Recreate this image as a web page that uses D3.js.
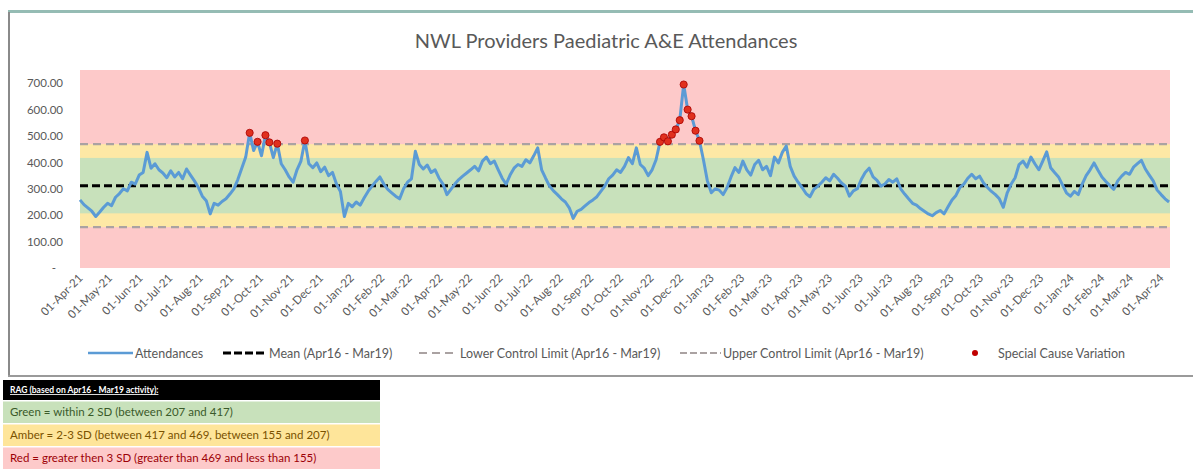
<!DOCTYPE html>
<html>
<head>
<meta charset="utf-8">
<title>NWL Providers Paediatric A&E Attendances</title>
<script src="https://cdn.jsdelivr.net/npm/d3@7"></script>
<style>
    body { margin: 0; background: #fff; }
    svg text { font-family: Lato, "Liberation Sans", sans-serif; }
    .axis path, .axis line { display: none; }
    .axis text { fill: #595959; font-size: 11.5px; }
    .legend text { fill: #595959; font-size: 12.5px; }
</style>
</head>
<body>
<script>
    /*========= DATA =========*/
    var chartTitle = "NWL Providers Paediatric A&E Attendances";
    var startDate = new Date(2021, 3, 1);   // first observation
    var endDate = new Date(2024, 3, 10);
    var stepDays = 4;                       // one reading every 4 days
    var attendances = [
        258, 240, 228, 215, 195, 212, 230, 245, 236, 268, 282, 300, 292, 325, 318, 352, 362, 438, 378, 395,
        372, 360, 342, 368, 345, 362, 338, 375, 352, 330, 305, 272, 255, 205, 245, 238, 252, 262, 280, 300,
        335, 378, 420, 512, 445, 478, 425, 503, 476, 418, 471, 395, 372, 345, 325, 372, 405, 483, 395, 380,
        398, 365, 382, 350, 362, 318, 290, 195, 245, 232, 250, 238, 265, 290, 310, 328, 345, 318, 298, 285,
        272, 262, 300, 325, 338, 442, 392, 375, 390, 362, 372, 340, 318, 278, 298, 318, 335, 348, 360, 372,
        385, 368, 405, 420, 395, 405, 372, 340, 318, 352, 378, 392, 385, 410, 398, 425, 455, 372, 340, 310,
        292, 278, 262, 250, 228, 188, 215, 222, 235, 248, 258, 270, 290, 310, 338, 352, 372, 362, 385, 418,
        395, 455, 392, 378, 350, 372, 410, 478, 495, 480, 505, 525, 560, 695, 600, 575, 520, 482, 410, 330,
        285, 300, 295, 278, 305, 345, 380, 362, 405, 372, 352, 392, 408, 372, 385, 350, 420, 398, 438, 462,
        385, 348, 325, 305, 282, 270, 298, 310, 325, 342, 330, 355, 340, 322, 310, 272, 292, 300, 335, 362,
        378, 345, 332, 310, 318, 335, 325, 338, 300, 280, 262, 245, 238, 225, 215, 205, 198, 210, 218, 205,
        232, 258, 275, 305, 318, 340, 355, 338, 348, 322, 305, 290, 278, 262, 230, 285, 318, 342, 392, 405,
        382, 420, 395, 372, 405, 440, 380, 362, 345, 315, 285, 272, 290, 278, 318, 350, 372, 398, 370, 345,
        328, 312, 298, 330, 348, 362, 355, 382, 395, 408, 375, 352, 330, 295, 278, 262, 250
    ];
    var meanValue = 312;
    var lowerLimit = 155;
    var upperLimit = 469;
    var greenBand = [207, 417];
    var yMax = 750;
    var yTicks = [0, 100, 200, 300, 400, 500, 600, 700];
    var legendNames = ["Attendances", "Mean (Apr16 - Mar19)", "Lower Control Limit (Apr16 - Mar19)",
                       "Upper Control Limit (Apr16 - Mar19)", "Special Cause Variation"];
    var ragTitle = "RAG (based on Apr16 - Mar19 activity):";
    var ragRows = [
        "Green = within 2 SD (between 207 and 417)",
        "Amber = 2-3 SD (between 417 and 469, between 155 and 207)",
        "Red = greater then 3 SD (greater than 469 and less than 155)"
    ];

    /*========= COLOURS =========*/
    var lineColor = "#5b9bd5";
    var redBg = "#fdc9c9", amberBg = "#fde8a5", greenBg = "#c8e1bb";
    var limitColor = "#aaa2a2";

    /*========= SIZE =========*/
    var svgWidth = 1193, svgHeight = 473;
    var plot = { left: 80, right: 1170, top: 70, bottom: 268 };

    var points = attendances.map(function (v, i) {
        return { date: d3.timeDay.offset(startDate, i * stepDays), value: v };
    });

    var svg = d3.select("body").append("svg")
        .attr("width", svgWidth).attr("height", svgHeight);

    // chart frame
    svg.append("rect").attr("x", 8).attr("y", 10).attr("width", svgWidth - 8).attr("height", 3).attr("fill", "#95bcb4");
    svg.append("rect").attr("x", 8).attr("y", 12).attr("width", 2).attr("height", 365).attr("fill", "#8a8a8a");
    svg.append("rect").attr("x", 8).attr("y", 375).attr("width", svgWidth - 8).attr("height", 2).attr("fill", "#9a9a9a");

    svg.append("text")
        .attr("x", 606).attr("y", 48)
        .attr("text-anchor", "middle")
        .attr("font-size", "20px")
        .attr("fill", "#595959")
        .text(chartTitle);

    // scales
    var x = d3.scaleTime().domain([startDate, endDate]).range([plot.left, plot.right]);
    var y = d3.scaleLinear().domain([0, yMax]).range([plot.bottom, plot.top]);

    // RAG background bands
    var bandG = svg.append("g");
    var bands = [
        { lo: 0, hi: yMax, color: redBg },
        { lo: lowerLimit, hi: upperLimit, color: amberBg },
        { lo: greenBand[0], hi: greenBand[1], color: greenBg }
    ];
    bandG.selectAll("rect").data(bands).enter().append("rect")
        .attr("x", plot.left)
        .attr("width", plot.right - plot.left)
        .attr("y", function (d) { return y(d.hi); })
        .attr("height", function (d) { return y(d.lo) - y(d.hi); })
        .attr("fill", function (d) { return d.color; });

    // axes
    var yAxis = d3.axisLeft(y).tickValues(yTicks).tickSize(0).tickPadding(0)
        .tickFormat(function (d) { return d === 0 ? "-" : d3.format(".2f")(d); });
    svg.append("g").attr("class", "axis")
        .attr("transform", "translate(63,0)")
        .call(yAxis)
        .selectAll("text").filter(function (d) { return d === 0; }).attr("dx", "-7");

    var monthTicks = d3.timeMonth.range(startDate, d3.timeDay.offset(endDate, -8));
    var xAxis = d3.axisBottom(x).tickValues(monthTicks).tickSize(0)
        .tickFormat(d3.timeFormat("%d-%b-%y"));
    svg.append("g").attr("class", "axis")
        .attr("transform", "translate(0," + (plot.bottom + 8) + ")")
        .call(xAxis)
        .selectAll("text")
        .attr("text-anchor", "end")
        .attr("dy", "0.35em")
        .attr("y", 0)
        .attr("transform", "rotate(-45)");

    // control lines
    var limits = [
        { v: lowerLimit, color: limitColor, w: 2.2, dash: "8,5" },
        { v: upperLimit, color: limitColor, w: 2.2, dash: "8,5" },
        { v: meanValue, color: "#000", w: 3, dash: "8,4" }
    ];
    svg.append("g").selectAll("line").data(limits).enter().append("line")
        .attr("x1", plot.left).attr("x2", plot.right)
        .attr("y1", function (d) { return y(d.v); })
        .attr("y2", function (d) { return y(d.v); })
        .attr("stroke", function (d) { return d.color; })
        .attr("stroke-width", function (d) { return d.w; })
        .attr("stroke-dasharray", function (d) { return d.dash; });

    // attendances line
    var line = d3.line()
        .x(function (d) { return x(d.date); })
        .y(function (d) { return y(d.value); });
    svg.append("path")
        .datum(points)
        .attr("d", line)
        .attr("fill", "none")
        .attr("stroke", lineColor)
        .attr("stroke-width", 3)
        .attr("stroke-linejoin", "round");

    // special cause variation points
    svg.append("g").selectAll("circle")
        .data(points.filter(function (d) { return d.value > upperLimit || d.value < lowerLimit; }))
        .enter().append("circle")
        .attr("cx", function (d) { return x(d.date); })
        .attr("cy", function (d) { return y(d.value); })
        .attr("r", 3.6)
        .attr("fill", "#e0301e")
        .attr("stroke", "#a80000")
        .attr("stroke-width", 0.8);

    // legend
    var legend = svg.append("g").attr("class", "legend");
    var ly = 353;
    legend.append("line").attr("x1", 88).attr("x2", 133).attr("y1", ly).attr("y2", ly)
        .attr("stroke", lineColor).attr("stroke-width", 2.5);
    legend.append("line").attr("x1", 223).attr("x2", 267).attr("y1", ly).attr("y2", ly)
        .attr("stroke", "#000").attr("stroke-width", 3).attr("stroke-dasharray", "8,3");
    legend.append("line").attr("x1", 419).attr("x2", 455).attr("y1", ly).attr("y2", ly)
        .attr("stroke", limitColor).attr("stroke-width", 2).attr("stroke-dasharray", "8,5");
    legend.append("line").attr("x1", 680).attr("x2", 721).attr("y1", ly).attr("y2", ly)
        .attr("stroke", limitColor).attr("stroke-width", 2).attr("stroke-dasharray", "7,3");
    legend.append("circle").attr("cx", 975).attr("cy", ly).attr("r", 3)
        .attr("fill", "#c00000");
    var legendX = [135, 269, 460, 723, 998];
    legend.selectAll("text").data(legendNames).enter().append("text")
        .attr("x", function (d, i) { return legendX[i]; })
        .attr("y", ly + 4.5)
        .text(function (d) { return d; });

    // RAG key table
    var rag = svg.append("g").attr("font-size", "11.5px");
    rag.append("rect").attr("x", 3).attr("y", 380).attr("width", 377).attr("height", 20).attr("fill", "#000");
    rag.append("text").attr("x", 10).attr("y", 393)
        .attr("font-size", "8.5px")
        .attr("fill", "#fff").attr("font-weight", "bold").attr("text-decoration", "underline")
        .text(ragTitle);
    var rowFill = [greenBg, "#fee59a", "#fdcaca"];
    var rowText = ["#3a5a2a", "#7a5200", "#9c0006"];
    rag.selectAll(".rowbg").data(ragRows).enter().append("rect")
        .attr("x", 3).attr("width", 377)
        .attr("y", function (d, i) { return 401.5 + i * 23; })
        .attr("height", 21.5)
        .attr("fill", function (d, i) { return rowFill[i]; });
    rag.selectAll(".rowtx").data(ragRows).enter().append("text")
        .attr("x", 10)
        .attr("y", function (d, i) { return 416 + i * 23; })
        .attr("fill", function (d, i) { return rowText[i]; })
        .text(function (d) { return d; });
</script>
</body>
</html>
